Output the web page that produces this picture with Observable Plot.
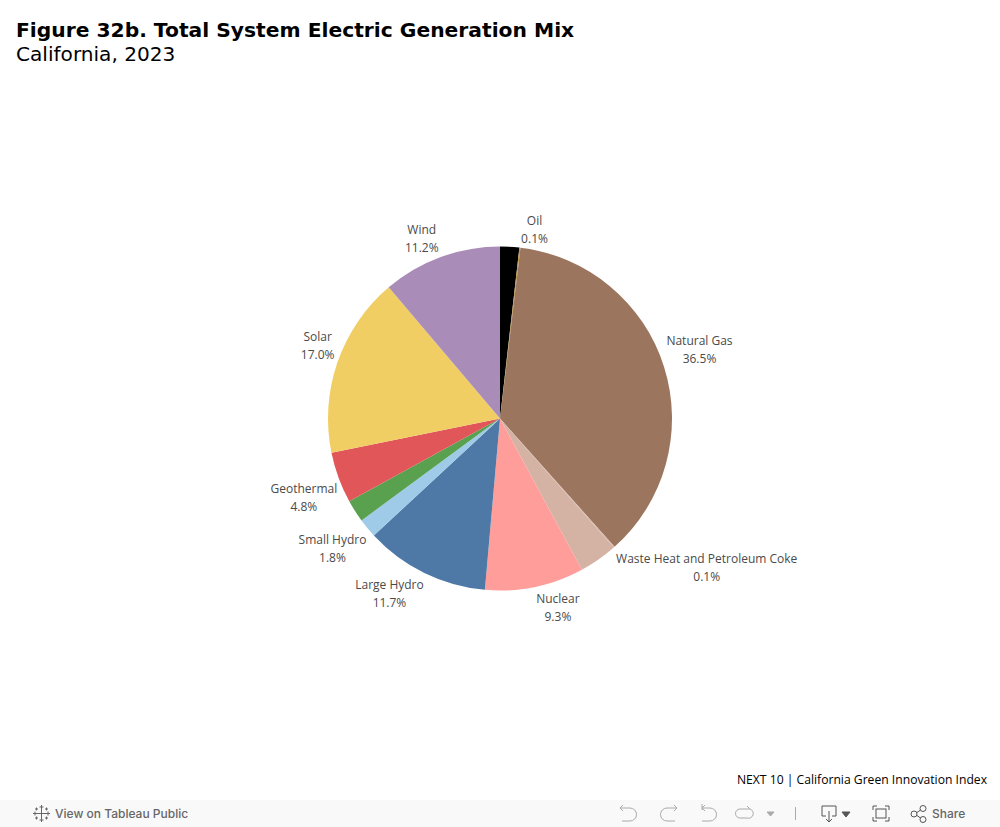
<!DOCTYPE html>
<html>
<head>
<meta charset="utf-8">
<script src="https://cdn.jsdelivr.net/npm/d3@7"></script>
<script src="https://cdn.jsdelivr.net/npm/@observablehq/plot@0.6"></script>
<style>
html,body{margin:0;padding:0;background:#fff;width:1000px;height:827px;overflow:hidden}
#head{height:70px;box-sizing:border-box;padding:18px 0 0 16px;font-family:"DejaVu Sans";color:#000}
#title{font-weight:700;font-size:20.25px;line-height:24px;white-space:nowrap}
#sub{font-size:20.1px;line-height:24px}
#chart{height:700px}
#chart svg{display:block}
#credit{height:30px;text-align:right;padding-right:13px;box-sizing:border-box;font:12.15px/20px "Open Sans";color:#000}
#bar{position:relative;height:27px;background:#f9f9f9;font:500 12px/27px Inter;color:#666}
#bar span{position:absolute;top:0}
#bar svg{position:absolute;left:0;top:0}
</style>
</head>
<body>
<div id="head"><div id="title">Figure 32b. Total System Electric Generation Mix</div><div id="sub">California, 2023</div></div>
<div id="chart"></div>
<div id="credit">NEXT 10 | California Green Innovation Index</div>
<div id="bar">
<svg width="1000" height="27" fill="none" stroke="#aaa" stroke-width="1">
<g stroke="#666"><path d="M41.500 9v9M37 13.500h9M41.500 5v4M39.500 7h4M41.500 18v4M39.500 20h4M33 13.500h4M35 11.500v4M46 13.500h4M48 11.500v4M36.500 7.500v3M35 9h3M46.500 7.500v3M45 9h3M36.500 16.500v3M35 18h3M46.500 16.500v3M45 18h3"/></g>
<path d="M620 8h10a6 6 0 0 1 0 13h-8M620 8l3-3M620 8l3 3"/>
<path d="M677 8h-10a6 6 0 0 0 0 13h8M677 8l-3-3M677 8l-3 3"/>
<path d="M702 4v6M702 8h8a6 6 0 0 1 0 13h-8M702 8l3-3M702 8l3 3"/>
<path d="M750 9h-10a4 4 0 0 0 0 9h7a4 4 0 0 0 3-9M750 9l-3-3"/>
<path d="M767 12h7l-3.500 4z" fill="#aaa"/>
<path d="M795.500 7v13"/>
<g stroke="#555"><path d="M826 16h-4v-10h14v10h-4M829 11v11M826 19l3 3 3-3"/><path d="M842 12h8l-4 5z" fill="#555"/>
<path d="M873 10v-4h4M885 6h4v4M889 17v4h-4M877 21h-4v-4"/><rect x="876" y="9" width="10" height="9"/>
<circle cx="914" cy="14" r="3"/><circle cx="923" cy="8.500" r="3"/><circle cx="923" cy="19.500" r="3"/><path d="M917 12.500l3.500-2.500M917 15.500l3.500 2.500"/></g>
</svg>
<span style="left:55px">View on Tableau Public</span>
<span style="left:932px">Share</span>
</div>
<script>
const categories = ["Coal","Oil","Natural Gas","Waste Heat and Petroleum Coke","Unspecified","Nuclear","Large Hydro","Small Hydro","Biomass","Geothermal","Solar","Wind"];
const shares = [1.8,0.1,36.5,0.1,3.6,9.3,11.7,1.8,2.1,4.8,17.0,11.2];
const labelled = ["Oil","Natural Gas","Waste Heat and Petroleum Coke","Nuclear","Large Hydro","Small Hydro","Geothermal","Solar","Wind"];
const sliceColors = ["#000000","#b8963e","#9c755f","#d4b3a5","#d4b3a5","#ff9d9a","#4e79a7","#a0cbe8","#59a14f","#e15759","#f1ce63","#a98db8"];

const labelFont = '12px "Open Sans"';
const W = 1000, H = 700, R = 172, cx = 500, cy = 348.5;
const ctx = document.createElement("canvas").getContext("2d");
ctx.font = labelFont;

const slices = d3.pie().sort(null).value(d => d)(shares).map((a, i) => ({
  name: categories[i], share: shares[i], start: a.startAngle, end: a.endAngle, mid: (a.startAngle + a.endAngle) / 2
}));

// Each label's block has its corner on the rim at the slice's mid-angle.
const labels = slices.filter(s => labelled.includes(s.name)).map(s => {
  const sx = Math.sin(s.mid), cs = Math.cos(s.mid);
  const value = `${s.share.toFixed(1)}%`;
  const valueWidth = ctx.measureText(value).width * (sx < 0 ? 1.1 : 1);
  const w = Math.max(ctx.measureText(s.name).width, valueWidth);
  return {
    text: `${s.name}\n${value}`,
    x: sx * 1.008 + Math.sign(sx) * (w / 2 + 0.5) / R,
    y: cs * 1.012,
    anchor: cs > 0 ? "bottom" : "top"
  };
});

function pieSlices(index, scales, values) {
  const g = d3.create("svg:g");
  const r = scales.x(1) - scales.x(0);
  const arc = d3.arc().innerRadius(0).outerRadius(r);
  for (const i of index) {
    g.append("path")
      .attr("transform", `translate(${scales.x(0)},${scales.y(0)})`)
      .attr("d", arc({startAngle: slices[i].start, endAngle: slices[i].end}))
      .attr("fill", values.fill[i]);
  }
  return g.node();
}

const textStyle = {x: "x", y: "y", text: "text", textAnchor: "middle", lineHeight: 1.5, fontSize: 12, fontFamily: "Open Sans", fill: "#4a4a4a"};
const chart = Plot.plot({
  width: W, height: H,
  margin: 0,
  style: {background: "transparent", overflow: "visible"},
  x: {axis: null, domain: [-cx / R, (W - cx) / R], range: [0, W]},
  y: {axis: null, domain: [cy / R, (cy - H) / R], range: [0, H]},
  color: {domain: categories, range: sliceColors},
  marks: [
    Plot.dot(slices, {x: () => 0, y: () => 0, fill: "name", render: pieSlices}),
    Plot.text(labels.filter(d => d.anchor === "bottom"), {...textStyle, lineAnchor: "bottom", dy: -3.5}),
    Plot.text(labels.filter(d => d.anchor === "top"), {...textStyle, lineAnchor: "top", dy: 1})
  ]
});
document.getElementById("chart").append(chart);
</script>
</body>
</html>
